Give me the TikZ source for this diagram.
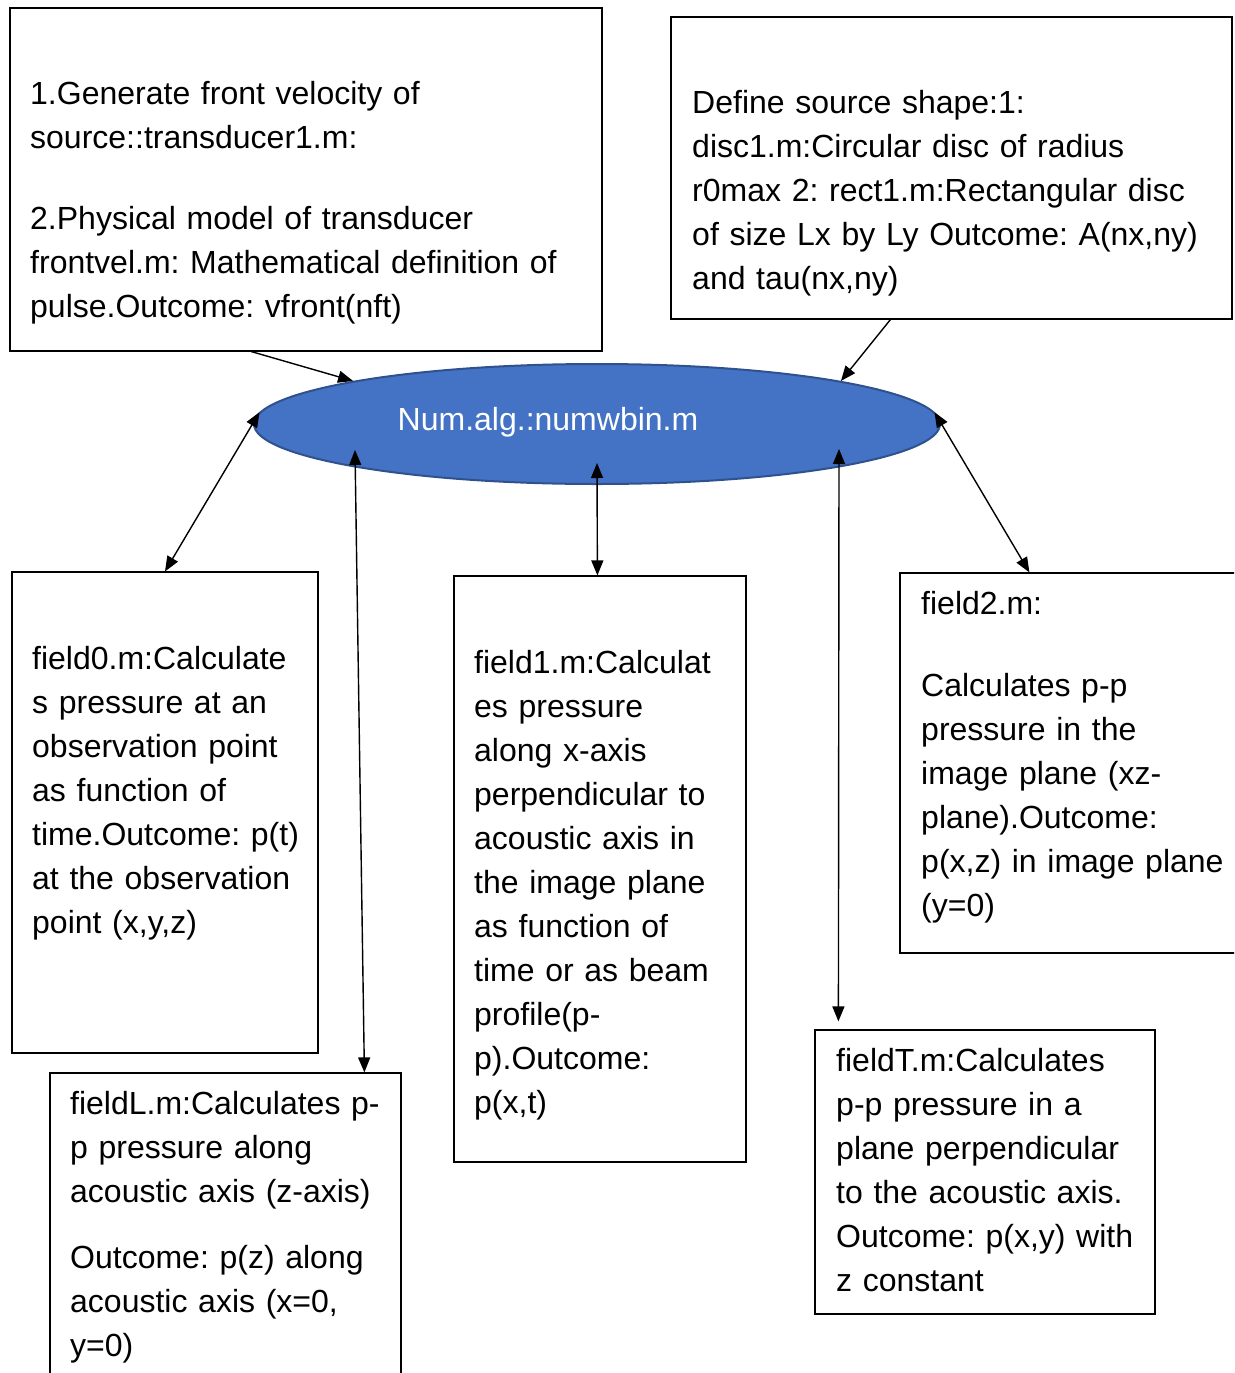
\documentclass[tikz,border=0pt]{standalone}
\usepackage{fontspec}
\setmainfont{Liberation Sans}
\usetikzlibrary{arrows.meta,shapes.geometric}
\frenchspacing
\definecolor{algfill}{HTML}{4472C4}
\definecolor{algline}{HTML}{2F528F}
\tikzset{
	box/.style={draw, line width=1.2pt, inner sep=0pt},
	txt/.style={anchor=base west, inner sep=0pt, text width=600pt, align=left, font=\fontsize{32}{44}\selectfont},
	onearrow/.style={line width=1.4pt, -{Triangle[length=15pt,width=12pt]}},
	twoarrow/.style={line width=1.4pt, {Triangle[length=15pt,width=12pt]}-{Triangle[length=15pt,width=12pt]}},
}

\begin{document}
\begin{tikzpicture}[x=1pt, y=-1pt]
			%%%%% START %%%%%
			\useasboundingbox (0,0) rectangle (1234,1373);
			\clip (0,0) rectangle (1234,1373);
			
			\node[box, minimum width=592pt, minimum height=343pt] (src) at (306,179.5) {};
			\node[txt] (srctxt) at (30,104) {1.Generate front velocity of\\ source::transducer1.m:\\[37pt] 2.Physical model of transducer\\ frontvel.m: Mathematical definition of\\ pulse.Outcome: vfront(nft)};
			
			\node[box, minimum width=561pt, minimum height=302pt] (shape) at (951.5,168) {};
			\node[txt] (shapetxt) at (692,113) {Define source shape:1:\\ disc1.m:Circular disc of radius\\ r0max 2: rect1.m:Rectangular disc\\ of size Lx by Ly Outcome: A(nx,ny)\\ and tau(nx,ny)};
			
			\node[ellipse, draw=algline, fill=algfill, line width=2pt, minimum width=686pt, minimum height=120pt] (alg) at (597,424) {};
			\node[anchor=base, inner sep=0pt, text=white, font=\fontsize{32}{44}\selectfont] (algtxt) at (548,430) {Num.alg.:numwbin.m};
			\coordinate (algL) at (355,450);
			\coordinate (algM) at (597,463);
			\coordinate (algR) at (839,449);
			
			\node[box, minimum width=306pt, minimum height=481pt] (f0) at (165,812.5) {};
			\node[txt] (f0txt) at (32,669) {field0.m:Calculate\\ s pressure at an\\ observation point\\ as function of\\ time.Outcome: p(t)\\ at the observation\\ point (x,y,z)};
			
			\node[box, minimum width=292pt, minimum height=586pt] (f1) at (600,869) {};
			\node[txt] (f1txt) at (474,673) {field1.m:Calculat\\ es pressure\\ along x-axis\\ perpendicular to\\ acoustic axis in\\ the image plane\\ as function of\\ time or as beam\\ profile(p-\\ p).Outcome:\\ p(x,t)};
			
			\node[box, minimum width=360pt, minimum height=380pt] (f2) at (1080,763) {};
			\node[txt] (f2txt) at (921,614) {field2.m:\\[38pt] Calculates p-p\\ pressure in the\\ image plane (xz-\\ plane).Outcome:\\ p(x,z) in image plane\\ (y=0)};
			
			\node[box, minimum width=351pt, minimum height=327pt] (fL) at (225.5,1236.5) {};
			\node[txt] (fLtxt) at (70,1114) {fieldL.m:Calculates p-\\ p pressure along\\ acoustic axis (z-axis)\\[22pt] Outcome: p(z) along\\ acoustic axis (x=0,\\ y=0)};
			
			\node[box, minimum width=340pt, minimum height=284pt] (fT) at (985,1172) {};
			\node[txt] (fTtxt) at (836,1071) {fieldT.m:Calculates\\ p-p pressure in a\\ plane perpendicular\\ to the acoustic axis.\\ Outcome: p(x,y) with\\ z constant};
			
			%%%%% ARROWS %%%%%
			\draw[onearrow] ([xshift=242pt]src.south west) -- (alg.170);
			\draw[onearrow] ([xshift=220pt]shape.south west) -- (alg.10);
			
			\draw[twoarrow] (alg.178) -- (f0.north);
			\draw[twoarrow] (algL) -- ([xshift=315pt]fL.north west);
			\draw[twoarrow] (algM) -- ([xshift=144pt]f1.north west);
			\draw[twoarrow] (algR) -- ([xshift=24pt,yshift=8pt]fT.north west);
			\draw[twoarrow] (alg.2) -- ([xshift=130pt]f2.north west);
			
			%%%%% END %%%%%
\end{tikzpicture}
\end{document}
